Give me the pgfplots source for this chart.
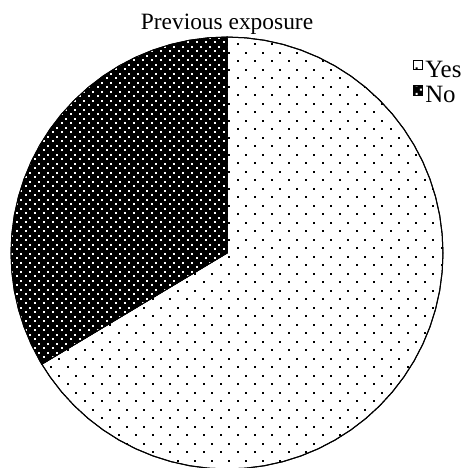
\documentclass[border=0pt]{standalone}
\usepackage{fontspec}
\setmainfont{Liberation Serif}
\usepackage{pgfplots}
\pgfplotsset{compat=1.18}
\usepgfplotslibrary{polar}
\usetikzlibrary{patterns}

% sparse staggered black dots (Yes)
\pgfdeclarepatternformonly{sparsedots}{\pgfqpoint{-1bp}{-1bp}}{\pgfqpoint{16bp}{16bp}}{\pgfqpoint{17bp}{17bp}}{%
  \pgfpathrectangle{\pgfqpoint{-1bp}{-1bp}}{\pgfqpoint{2bp}{2bp}}%
  \pgfpathrectangle{\pgfqpoint{7.5bp}{7.5bp}}{\pgfqpoint{2bp}{2bp}}%
  \pgfusepath{fill}}
% dense staggered dots (No, drawn white on black)
\pgfdeclarepatternformonly{densedots}{\pgfqpoint{-1bp}{-1bp}}{\pgfqpoint{7.5bp}{7.5bp}}{\pgfqpoint{8.5bp}{8.5bp}}{%
  \pgfpathrectangle{\pgfqpoint{-1bp}{-1bp}}{\pgfqpoint{2bp}{2bp}}%
  \pgfpathrectangle{\pgfqpoint{3.25bp}{3.25bp}}{\pgfqpoint{2bp}{2bp}}%
  \pgfusepath{fill}}

\newcommand\chartfont{\fontsize{23.5}{28}\selectfont}
\newcommand\legfont{\fontsize{25}{30}\selectfont}

% Shares: Yes = 66.4 %, No = 33.6 %  (No: 90 deg -> 210.96 deg, Yes: 210.96 deg -> 450 deg)

\begin{document}
\begin{tikzpicture}
\path[use as bounding box] (0bp,0bp) rectangle (465bp,-468bp);
\node[anchor=base,font=\chartfont] at (227bp,-29bp) {Previous exposure};
\begin{polaraxis}[
  at={(227bp,-253bp)}, anchor=center,
  scale only axis, width=432bp, height=432bp,
  xmin=0, xmax=360, ymin=0, ymax=1,
  hide axis, clip=false,
  legend style={at={(0.93,0.948)}, anchor=north west, draw=none, fill=none,
    inner sep=0pt, font=\legfont, row sep=4bp, column sep=2bp,
    nodes={inner sep=0pt, text height=16bp, text depth=4bp}},
  legend cell align=left,
  legend image code/.code={\draw[#1, line width=0.8bp] (0bp,1.5bp) rectangle (9.5bp,11bp);},
]
\addplot[draw=black, line width=1bp, fill=white,
  postaction={pattern=sparsedots, pattern color=black}]
  coordinates {(0,0) (210.96,1) (215,1) (220,1) (225,1) (230,1) (235,1) (240,1) (245,1)
  (250,1) (255,1) (260,1) (265,1) (270,1) (275,1) (280,1) (285,1) (290,1) (295,1)
  (300,1) (305,1) (310,1) (315,1) (320,1) (325,1) (330,1) (335,1) (340,1) (345,1)
  (350,1) (355,1) (360,1) (365,1) (370,1) (375,1) (380,1) (385,1) (390,1) (395,1)
  (400,1) (405,1) (410,1) (415,1) (420,1) (425,1) (430,1) (435,1) (440,1) (445,1) (450,1)} -- cycle;
\addlegendentry{Yes}
\addplot[draw=black, line width=1bp, fill=black,
  postaction={pattern=densedots, pattern color=white}]
  coordinates {(0,0) (90,1) (95,1) (100,1) (105,1) (110,1) (115,1) (120,1) (125,1)
  (130,1) (135,1) (140,1) (145,1) (150,1) (155,1) (160,1) (165,1) (170,1) (175,1)
  (180,1) (185,1) (190,1) (195,1) (200,1) (205,1) (210,1) (210.96,1)} -- cycle;
\addlegendentry{No}
\end{polaraxis}
\end{tikzpicture}
\end{document}
